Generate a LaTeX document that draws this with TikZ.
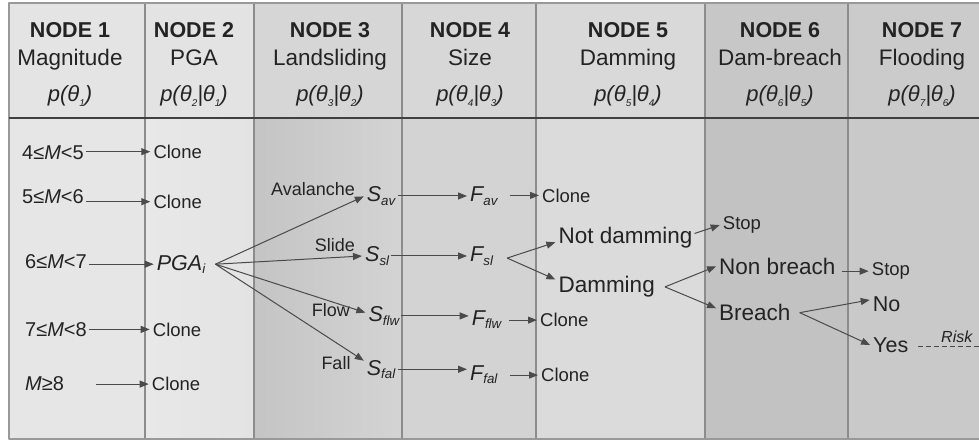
\documentclass[tikz,border=0pt]{standalone}
\usepackage{graphicx}
\usepackage{fontspec}
\setmainfont{Liberation Sans}
\usetikzlibrary{arrows.meta}
\definecolor{ink}{HTML}{232323}
\definecolor{wire}{HTML}{4A4A4A}
\newcommand\fs[1]{\fontsize{#1}{#1}\selectfont}
\newcommand\sbs[1]{\raisebox{-0.3ex}{\scalebox{0.62}{#1}}}
\newcommand\tsb[1]{\raisebox{-0.45ex}{\scalebox{0.45}{#1}}}
\begin{document}
\begin{tikzpicture}[x=1pt,y=-1pt,>={Triangle[length=9pt,width=7pt]},line join=round,
  txt/.style={inner sep=2pt,anchor=base west,text=ink},
  sm/.style={txt,font=\fs{18.5}},
  md/.style={txt,font=\fs{20}},
  lg/.style={txt,font=\fs{22.5}},
  ital/.style={txt,font=\fs{21.5}\itshape},
  lab/.style={inner sep=0pt,anchor=base east,text=ink,font=\fs{18}},
  hd/.style={inner sep=0pt,anchor=base,text=ink},
  link/.style={->,shorten >=1pt,draw=wire,line width=1pt}]
\useasboundingbox (0,0) rectangle (979,442);
% column strips: x from / x to / header grey / body grey
\foreach \xa/\xb/\ch/\cb in {9/145/10.6/9.8, 145/254/11/7.8, 254/402/16/19, 402/536/15.7/17.3,
    536/705/15/14, 705/848/22/24, 848/979/20.4/21}{
  \fill[black!\ch] (\xa,3) rectangle (\xb,118);
  \fill[black!\cb] (\xa,118) rectangle (\xb,439);
}
\shade[left color=black!9,right color=black!11] (145,118) rectangle (254,439);
\shade[left color=black!23,right color=black!17] (254,118) rectangle (402,439);
\foreach \x in {145,254,402,536,705,848} \draw[black!45,line width=1.2pt] (\x,3) -- (\x,439);
\draw[black!40,line width=1.5pt] (979,3) -- (9,3) -- (9,439) -- (979,439);
\draw[black!75,line width=2pt] (9,118) -- (979,118);

% header
\foreach \k/\cx/\nm in {1/70/Magnitude,2/194/PGA,3/330/Landsliding,4/470/Size,5/628/Damming,6/780/Dam-breach,7/922/Flooding}{
  \node[hd,font=\fs{21.5}\bfseries] (n\k) at (\cx,37) {NODE \k};
  \node[hd,font=\fs{22.5}] (t\k) at (\cx,65) {\nm};
}
\node[hd,font=\fs{22}\itshape] (p1) at (70,101) {p(θ\tsb{1})};
\foreach \k/\cx in {2/194,3/330,4/470,5/628,6/780,7/922}{
  \pgfmathtruncatemacro\j{\k-1}
  \node[hd,font=\fs{22}\itshape] (p\k) at (\cx,101) {p(θ\tsb{\k}|θ\tsb{\j})};
}

% magnitude -> PGA
\node[md] (m1) at (20,159.3) {4≤\textit{M}<5};
\node[md] (m2) at (20,203.3) {5≤\textit{M}<6};
\node[md] (m3) at (23,268.3) {6≤\textit{M}<7};
\node[md] (m4) at (23,336.7) {7≤\textit{M}<8};
\node[md] (m5) at (23,390) {\textit{M}≥8};
\node[sm] (c1) at (151.3,158.3) {Clone};
\node[sm] (c2) at (151.3,208.3) {Clone};
\node[ital] (pga) at (154.7,270) {PGA\sbs{i}};
\node[sm] (c4) at (150.7,336) {Clone};
\node[sm] (c5) at (149.7,390.7) {Clone};
\coordinate (m5s) at (96,382);
\foreach \k in {1,2,4} \draw[link] (m\k.east |- c\k.west) -- (c\k.west);
\draw[link] (m3.east |- pga.west) -- (pga.west);
\draw[link] (m5s |- c5.west) -- (c5.west);

% landsliding
\node[ital] (sav) at (364.7,201.7) {S\sbs{av}};
\node[ital] (ssl) at (363,261.7) {S\sbs{sl}};
\node[ital] (sflw) at (366.3,321.7) {S\sbs{flw}};
\node[ital] (sfal) at (364.7,375) {S\sbs{fal}};
\node[lab] (lav) at (355,195) {Avalanche};
\node[lab] (lsl) at (355,251.7) {Slide};
\node[lab] (lfl) at (350,316.7) {Flow};
\node[lab] (lfa) at (350.7,369.3) {Fall};
\coordinate (fan) at ([xshift=8pt]pga.east);
\draw[link] (fan) -- (sav.west);
\draw[link] (fan) -- (ssl.west);
\draw[link] (fan) -- ([yshift=3pt]sflw.west);
\draw[link] (fan) -- ([yshift=8pt]sfal.west);

% size
\node[ital] (fav) at (468,201.7) {F\sbs{av}};
\node[ital] (fsl) at (468,261.7) {F\sbs{sl}};
\node[ital] (fflw) at (469.7,325) {F\sbs{flw}};
\node[ital] (ffal) at (468,380) {F\sbs{fal}};
\draw[link] (sav.east) -- (sav.east -| fav.west);
\draw[link] (ssl.east) -- (ssl.east -| fsl.west);
\draw[link] (sflw.east) -- (sflw.east -| fflw.west);
\draw[link] (sfal.east) -- (sfal.east -| ffal.west);

% damming
\node[sm] (cav) at (540,202) {Clone};
\node[sm] (cflw) at (538,326.7) {Clone};
\node[sm] (cfal) at (539,381.7) {Clone};
\draw[link] ([xshift=10pt]fav.east |- cav.west) -- (cav.west);
\draw[link] ([xshift=5pt]fflw.east |- cflw.west) -- (cflw.west);
\draw[link] ([xshift=10pt]ffal.east |- cfal.west) -- (cfal.west);
\node[lg] (nd) at (556.3,243.3) {Not damming};
\node[lg] (dm) at (556.3,292.7) {Damming};
\coordinate (fk1) at ([xshift=12pt,yshift=-2pt]fsl.east);
\draw[link] (fk1) -- ([yshift=-4.5pt]nd.west);
\draw[link] (fk1) -- ([yshift=7pt]dm.west);

% dam-breach
\node[sm] (st1) at (720.7,229.3) {Stop};
\draw[link] ([yshift=4pt]nd.east) -- (st1.west);
\node[lg] (nb) at (717,274) {Non breach};
\node[lg] (br) at (717,320.7) {Breach};
\coordinate (fk2) at ([xshift=8pt]dm.east);
\draw[link] (fk2) -- (nb.west);
\draw[link] (fk2) -- ([yshift=4pt]br.west);

% flooding
\node[sm] (st2) at (869.7,275.7) {Stop};
\draw[link] ([xshift=4pt]nb.east |- st2.west) -- (st2.west);
\node[txt,font=\fs{21.5}] (no) at (870.7,311) {No};
\node[txt,font=\fs{21.5}] (yes) at (871,352.7) {Yes};
\coordinate (fk3) at ([xshift=7pt]br.east);
\draw[link] (fk3) -- ([yshift=4pt]no.west);
\draw[link] (fk3) -- (yes.west);
\node[txt,inner sep=0pt,font=\fs{16}\itshape] (risk) at (941,342) {Risk};
\coordinate (rend) at (979,346.7);
\draw[wire,line width=1.1pt,dash pattern=on 5pt off 3pt] ([xshift=8pt]yes.east |- rend) -- (rend);
\end{tikzpicture}
\end{document}
